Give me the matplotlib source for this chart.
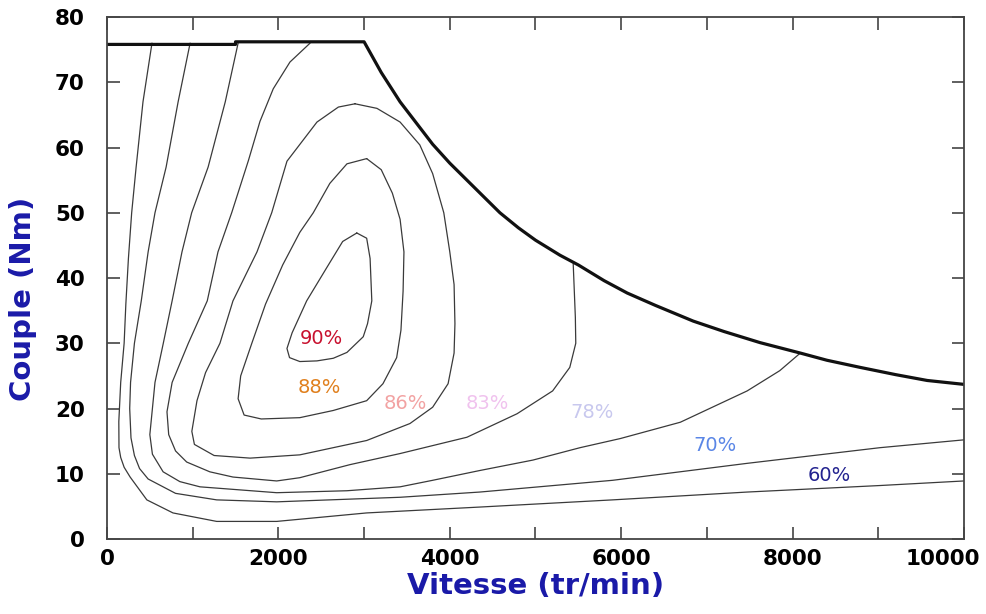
import matplotlib
matplotlib.use('Agg')
import matplotlib.pyplot as plt
from matplotlib.ticker import MultipleLocator, FuncFormatter

plt.rcParams['font.family'] = ['DejaVu Sans']

# ---- data (speed in tr/min, torque in Nm) ----
env_speed = [0, 1500, 1500, 3000, 3200, 3420, 3800, 4000, 4200, 4400, 4585, 4800, 5000, 5285, 5500, 5800,
             6070, 6400, 6840, 7200, 7620, 8090, 8400, 8790, 9200, 9570, 10000]
env_torque = [75.8, 75.8, 76.2, 76.2, 71.5, 67.0, 60.5, 57.6, 55.0, 52.4, 50.0, 47.7, 45.8, 43.5, 42.0, 39.6,
              37.7, 35.8, 33.4, 31.8, 30.1, 28.5, 27.4, 26.3, 25.2, 24.3, 23.7]

c90_speed = [2915, 3030, 3070, 3090, 3040, 2990, 2800, 2640, 2450, 2250, 2130, 2100, 2160, 2330, 2560, 2750, 2915]
c90_torque = [46.9, 46.1, 43.0, 36.5, 33.0, 31.0, 28.6, 27.7, 27.3, 27.2, 27.8, 29.2, 31.6, 36.5, 41.5, 45.6, 46.9]

c88_speed = [3030, 3200, 3330, 3420, 3465, 3455, 3430, 3380, 3220, 3030, 2640, 2250, 1800, 1600, 1530, 1560,
             1690, 1850, 2050, 2250, 2407, 2600, 2800, 3030]
c88_torque = [58.3, 56.6, 53.0, 49.0, 44.0, 38.0, 32.0, 27.8, 23.8, 21.2, 19.7, 18.6, 18.4, 19.0, 21.5, 25.0,
              30.0, 36.0, 42.0, 47.0, 50.0, 54.5, 57.5, 58.3]

c86_speed = [2894, 3150, 3420, 3650, 3800, 3930, 4000, 4050, 4060, 4050, 3980, 3800, 3535, 3030, 2250, 1670,
             1250, 1020, 990, 1050, 1150, 1318, 1470, 1750, 1922, 2100, 2450, 2700, 2894]
c86_torque = [66.7, 66.0, 63.9, 60.4, 56.0, 50.0, 44.0, 39.0, 33.0, 28.5, 23.8, 20.2, 17.7, 15.1, 12.9, 12.4,
              12.8, 14.5, 16.5, 21.2, 25.5, 30.0, 36.5, 44.0, 50.0, 57.9, 63.9, 66.2, 66.7]

c83_speed = [2370, 2135, 1940, 1785, 1650, 1455, 1295, 1170, 949, 760, 700, 720, 800, 930, 1200, 1470, 1980,
             2250, 2835, 3420, 4200, 4785, 5200, 5400, 5470, 5465, 5440]
c83_torque = [76.0, 73.1, 69.0, 64.0, 58.0, 50.0, 44.0, 36.5, 30.0, 24.0, 19.5, 16.0, 13.5, 11.8, 10.3, 9.5, 8.9,
              9.4, 11.4, 13.1, 15.6, 19.2, 22.7, 26.3, 30.0, 34.0, 42.2]

c78_speed = [1530, 1380, 1180, 988, 875, 760, 657, 560, 530, 500, 530, 655, 850, 1085, 1980, 2800, 3420, 3800,
             4350, 4970, 5520, 5990, 6690, 7470, 7850, 8090]
c78_torque = [76.0, 67.0, 57.0, 50.0, 44.0, 36.5, 30.0, 24.0, 20.0, 16.0, 13.0, 10.3, 8.8, 8.0, 7.1, 7.4, 8.0,
              9.0, 10.5, 12.1, 14.0, 15.4, 17.9, 22.7, 25.8, 28.5]

c70_speed = [970, 830, 690, 560, 480, 400, 320, 275, 265, 280, 320, 380, 480, 800, 1280, 1980, 3420, 4350, 5900,
             7470, 9020, 10000]
c70_torque = [76.0, 67.0, 57.0, 50.0, 44.0, 36.5, 30.0, 24.0, 20.0, 15.5, 12.8, 10.8, 9.2, 7.0, 6.0, 5.7, 6.4,
              7.2, 9.0, 11.6, 14.0, 15.2]

c60_speed = [525, 420, 340, 288, 250, 220, 200, 160, 138, 140, 160, 200, 270, 465, 770, 1280, 1980, 3030, 4350,
             5900, 7470, 9020, 10000]
c60_torque = [76.0, 67.0, 57.0, 50.0, 43.0, 36.0, 30.0, 24.0, 18.0, 14.0, 12.5, 11.0, 9.5, 6.0, 4.0, 2.7, 2.7,
              4.0, 4.9, 6.0, 7.2, 8.2, 8.9]

contours = [
    (c90_speed, c90_torque), (c88_speed, c88_torque), (c86_speed, c86_torque),
    (c83_speed, c83_torque), (c78_speed, c78_torque), (c70_speed, c70_torque),
    (c60_speed, c60_torque),
]

label_text = ['90%', '88%', '86%', '83%', '78%', '70%', '60%']
label_speed = [2500, 2475, 3480, 4440, 5660, 7095, 8425]
label_torque = [30.7, 23.2, 20.8, 20.8, 19.4, 14.4, 9.8]
label_color = ['#c8102e', '#e0801e', '#f2a2a2', '#f0c2ee', '#c8c8ee', '#5a86e6', '#22228f']

x_max = 10000

# ---- figure ----
fig = plt.figure(figsize=(9.87, 6.14), dpi=100)
ax = fig.add_axes([0.1084, 0.1221, 0.8683, 0.8502])

for sp, tq in contours:
    ax.plot(sp, tq, color='#3a3a3a', lw=0.9, solid_joinstyle='round', solid_capstyle='round')

ax.plot(env_speed, env_torque, color='#111111', lw=2.3, solid_joinstyle='round')

for t, x, y, c in zip(label_text, label_speed, label_torque, label_color):
    ax.text(x, y, t, color=c, fontsize=14, ha='center', va='center')

ax.set_xlim(0, x_max)
ax.set_ylim(0, 80)
ax.xaxis.set_major_locator(MultipleLocator(2000))
ax.xaxis.set_minor_locator(MultipleLocator(1000))
ax.yaxis.set_major_locator(MultipleLocator(10))
# the last speed label is drawn separately, shifted left of its tick as in the original
ax.xaxis.set_major_formatter(FuncFormatter(lambda v, p: '' if v >= x_max else f'{v:.0f}'))
ax.tick_params(which='both', direction='in', top=True, right=True, length=9, width=1.2, color='#444444')
ax.tick_params(axis='x', which='major', labelsize=15.5, pad=7)
ax.tick_params(axis='y', which='major', labelsize=15.5, pad=16)
for lab in ax.get_xticklabels() + ax.get_yticklabels():
    lab.set_fontweight('bold')
for s in ax.spines.values():
    s.set_color('#444444')
    s.set_linewidth(1.3)

ax.annotate(f'{x_max}', xy=(x_max, 0), xycoords='data', xytext=(-21, -10), textcoords='offset pixels',
            ha='center', va='top', fontsize=15.5, fontweight='bold', annotation_clip=False)

ax.set_xlabel('Vitesse (tr/min)', fontsize=21, fontweight='bold', color='#1a1aa8', labelpad=2)
ax.set_ylabel('Couple (Nm)', fontsize=21, fontweight='bold', color='#1a1aa8', labelpad=2)
ax.yaxis.set_label_coords(-0.082, 0.46)

fig.savefig('out.png', dpi=100, facecolor='white')
